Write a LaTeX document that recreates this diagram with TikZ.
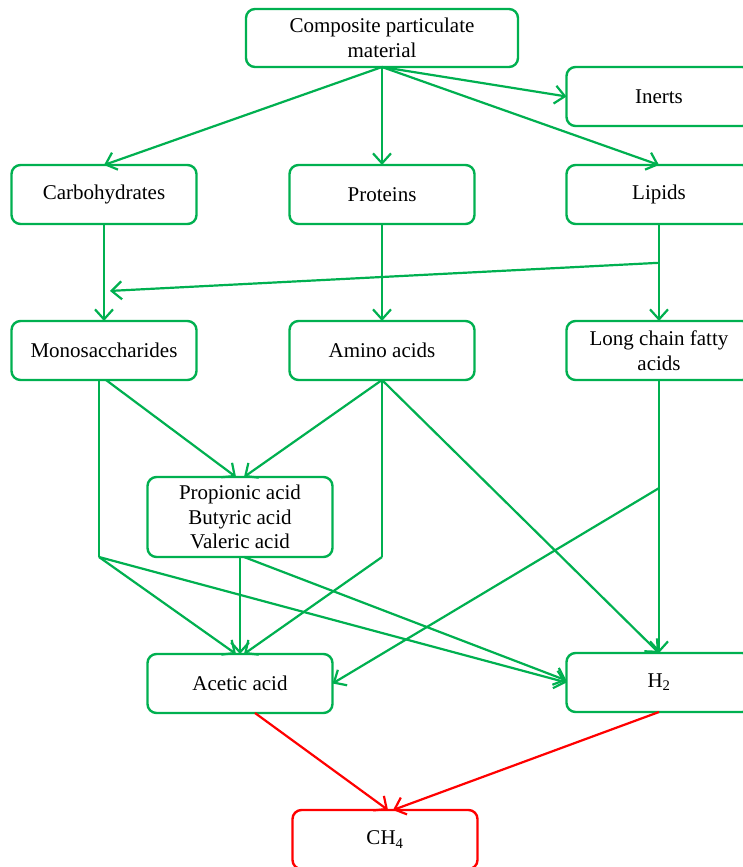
\documentclass[tikz,border=0pt]{standalone}
\usepackage{fontspec}
\setmainfont{Liberation Serif}
\usepackage{xcolor}
\usetikzlibrary{arrows.meta, positioning, calc}
\definecolor{adgreen}{RGB}{0,176,80}
\definecolor{adred}{RGB}{255,0,0}

\begin{document}
\begin{tikzpicture}[
    x=1pt, y=1pt,
    node distance=97pt,
    stage/.style={rectangle, draw=adgreen, line width=2.4pt, outer sep=0pt, fill=white, align=center, rounded corners=9pt, minimum width=185pt, minimum height=59pt, inner sep=2pt, font=\fontsize{21}{24.5}\selectfont},
    product/.style={stage, draw=adred},
    link/.style={draw=adgreen, line width=2.2pt},
    flow/.style={link, -{Straight Barb[length=10pt,width=18pt]}},
    redflow/.style={flow, draw=adred}
]

% Page frame
\fill[white, use as bounding box] (0,0) rectangle (743,-867);
\clip (0,0) rectangle (743,-867);

% Feed
\node[stage, minimum width=272pt, minimum height=58pt] (comp) at (382,-38) {Composite particulate\\material};

% Disintegration products
\node[stage, below=98pt of comp] (prot) {Proteins};
\node[stage, left=93pt of prot] (carbo) {Carbohydrates};
\node[stage, right=92pt of prot] (lipids) {Lipids};
\node[stage, above=39pt of lipids] (inerts) {Inerts};

% Hydrolysis products
\node[stage, below=of carbo] (mono) {Monosaccharides};
\node[stage, below=of prot] (amino) {Amino acids};
\node[stage, below=of lipids] (lcfa) {Long chain fatty\\acids};

% Acidogenesis / acetogenesis
\node[stage, minimum height=80pt, below right=97pt and -49pt of mono] (prop) {Propionic acid\\Butyric acid\\Valeric acid};
\node[stage, below=of prop] (acetic) {Acetic acid};
\node[stage, below=273pt of lcfa] (h2) {H\textsubscript{2}};

% Methanogenesis
\node[product, below right=97pt and -40pt of acetic] (ch4) {CH\textsubscript{4}};

% Junctions
\coordinate (lipj) at ($(lipids.south)!0.4!(lcfa.north)$);
\coordinate (carbj) at ($(carbo.south)!0.69!(mono.north)+(6,0)$);
\coordinate (monoj) at ([xshift=-5pt]mono.south |- prop.south);
\coordinate (aminoj) at (amino.south |- prop.south);
\coordinate (lcfaj) at ($(lcfa.south)!0.396!(h2.north)$);

% Arrows
\draw[flow] (comp.south) -- (carbo.north);
\draw[flow] (comp.south) -- (prot.north);
\draw[flow] (comp.south) -- (inerts.west);
\draw[flow] (comp.south) -- (lipids.north);
\draw[flow] (carbo.south) -- (mono.north);
\draw[flow] (prot.south) -- (amino.north);
\draw[flow] (lipids.south) -- (lcfa.north);
\draw[flow] (lipj) -- (carbj);
\draw[flow] ([xshift=2pt]mono.south) -- ([xshift=-4pt]prop.north);
\draw[flow] (amino.south) -- ([xshift=4pt]prop.north);
\draw[link] ([xshift=-5pt]mono.south) -- (monoj);
\draw[flow] (monoj) -- ([xshift=-4pt]acetic.north);
\draw[flow] (monoj) -- (h2.west);
\draw[link] (amino.south) -- (aminoj);
\draw[flow] (aminoj) -- ([xshift=4pt]acetic.north);
\draw[flow] (amino.south) -- (h2.north);
\draw[flow] (lcfa.south) -- (h2.north);
\draw[flow] (lcfaj) -- (acetic.east);
\draw[flow] (prop.south) -- (acetic.north);
\draw[flow] ([xshift=4pt]prop.south) -- ([yshift=2pt]h2.west);
\draw[redflow] ([xshift=15pt]acetic.south) -- ([xshift=3pt]ch4.north);
\draw[redflow] (h2.south) -- ([xshift=8pt]ch4.north);

\end{tikzpicture}
\end{document}
